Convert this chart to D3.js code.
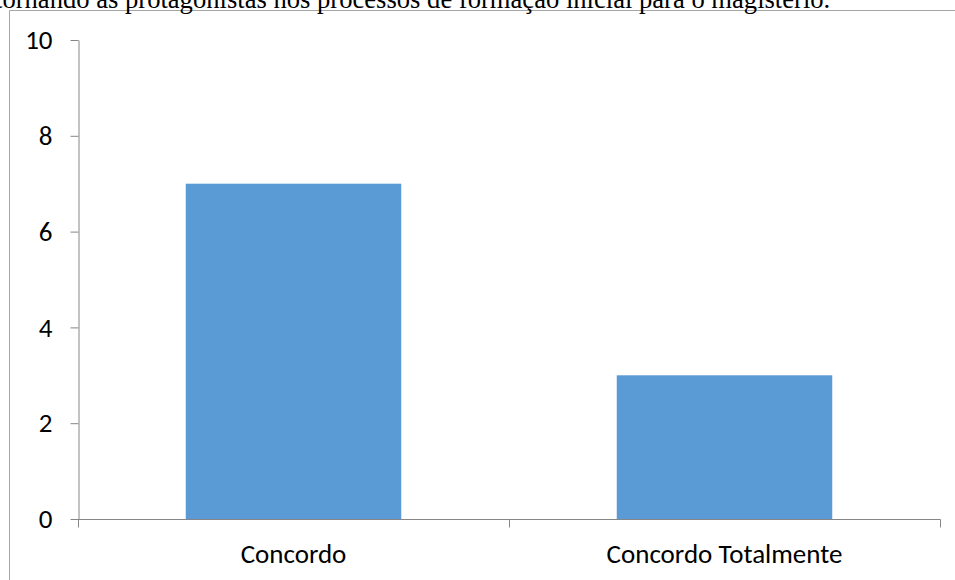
<!DOCTYPE html>
<html>
<head>
<meta charset="utf-8">
<script src="https://cdn.jsdelivr.net/npm/d3@7"></script>
<style>
  html, body { margin: 0; padding: 0; background: #fff; overflow: hidden; }
  svg { display: block; }
</style>
</head>
<body>
<svg id="chart" width="955" height="580"></svg>
<script>
// Response counts per answer option
const categories = ["Concordo", "Concordo Totalmente"];
const counts = [7, 3];
const yTicks = [0, 2, 4, 6, 8, 10];
const captionText = "tornando as protagonistas nos processos de formação inicial para o magistério.";

const svg = d3.select("#chart");
const W = 955, H = 580;
const plot = { left: 78, right: 940, top: 40, bottom: 519 };

// Chart frame
svg.append("path")
  .attr("d", `M9.5,${H} V10.5 H${W}`)
  .attr("fill", "none")
  .attr("stroke", "#a6a6a6")
  .attr("stroke-width", 1);

// Caption line running above the chart frame
svg.append("text")
  .attr("x", -5)
  .attr("y", 8)
  .attr("font-family", "'Liberation Serif', 'Times New Roman', serif")
  .attr("font-size", 26.6)
  .attr("fill", "#000")
  .text(captionText);

const x = d3.scaleBand()
  .domain(categories)
  .range([plot.left, plot.right])
  .paddingInner(0.5)
  .paddingOuter(0.25);

const xGrid = d3.scaleBand()
  .domain(categories)
  .range([plot.left, plot.right]);

const y = d3.scaleLinear()
  .domain([0, 10])
  .range([plot.bottom, plot.top]);

// Bars
svg.append("g")
  .selectAll("rect")
  .data(counts)
  .join("rect")
  .attr("x", (d, i) => x(categories[i]))
  .attr("y", d => y(d))
  .attr("width", x.bandwidth())
  .attr("height", d => y(0) - y(d))
  .attr("fill", "#5b9bd5");

const axisColor = "#868686";
const fontFamily = "Carlito, Lato, 'Open Sans', sans-serif";
const fontSize = 27;

// Y axis
const yAxis = svg.append("g")
  .attr("transform", `translate(${plot.left + 0.5},0)`)
  .call(d3.axisLeft(y).tickValues(yTicks).tickSize(8).tickPadding(18).tickSizeOuter(0));
yAxis.select(".domain").attr("stroke", axisColor);
yAxis.selectAll(".tick line").attr("stroke", axisColor);
yAxis.selectAll(".tick text")
  .attr("font-family", fontFamily)
  .attr("font-size", fontSize)
  .attr("fill", "#000");

// X axis: ticks at category boundaries
const boundaries = categories.map(c => xGrid(c)).concat([plot.right]);
const xAxisG = svg.append("g").attr("transform", `translate(0,${plot.bottom + 0.5})`);
xAxisG.append("line")
  .attr("x1", plot.left).attr("x2", plot.right + 0.5)
  .attr("stroke", axisColor);
xAxisG.selectAll("line.tick")
  .data(boundaries)
  .join("line")
  .attr("class", "tick")
  .attr("x1", d => Math.round(d) + 0.5).attr("x2", d => Math.round(d) + 0.5)
  .attr("y1", 0).attr("y2", 8)
  .attr("stroke", axisColor);
xAxisG.selectAll("text")
  .data(categories)
  .join("text")
  .attr("x", d => xGrid(d) + xGrid.bandwidth() / 2)
  .attr("y", 43)
  .attr("text-anchor", "middle")
  .attr("font-family", fontFamily)
  .attr("font-size", fontSize)
  .attr("fill", "#000")
  .text(d => d);
</script>
</body>
</html>
